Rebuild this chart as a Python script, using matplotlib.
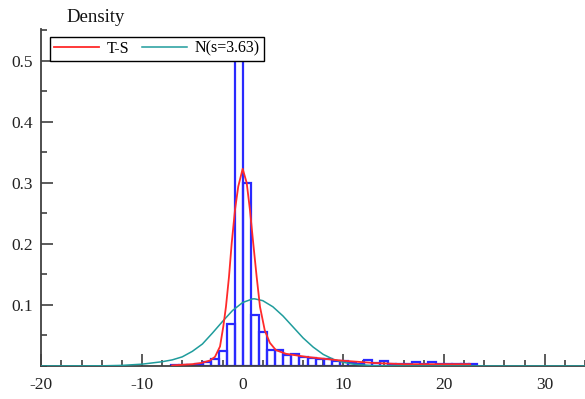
import numpy as np
import matplotlib
matplotlib.use('Agg')
import matplotlib.pyplot as plt
from matplotlib.ticker import MultipleLocator


# histogram (density), regular bins
BIN_START = -7.16
BIN_WIDTH = 0.8
HIST = [0.001, 0.002, 0.002, 0.003, 0.007, 0.011, 0.024, 0.069,
        0.504, 0.299, 0.084, 0.056, 0.026, 0.026, 0.018, 0.019,
        0.015, 0.013, 0.012, 0.011, 0.009, 0.008, 0.005, 0.004,
        0.010, 0.005, 0.008, 0.004, 0.003, 0.003, 0.006, 0.003,
        0.006, 0.003, 0.003, 0.003, 0.003, 0.003]

# fitted T-S density
TS_X = [-7.0, -5.0, -4.1, -3.25, -2.75, -2.25, -1.93, -1.66, -1.36, -1.09,
        -0.76, -0.44, 0.0, 0.40, 0.72, 1.05, 1.39, 1.72, 2.2, 2.7,
        3.3, 4.3, 6.3, 8.0, 9.7, 13.0, 16.0, 22.6]
TS_Y = [0.001, 0.003, 0.005, 0.009, 0.015, 0.032, 0.064, 0.097, 0.146, 0.201,
        0.256, 0.294, 0.323, 0.300, 0.256, 0.201, 0.146, 0.097, 0.058, 0.038,
        0.026, 0.020, 0.015, 0.012, 0.009, 0.005, 0.003, 0.003]

# normal density N(s=3.63)
N_X = [-20, -14, -12, -10, -9, -8, -7, -6, -5, -4, -3, -2, -1, 0, 1, 1.2,
       2, 3, 4, 5, 6, 7, 8, 9, 10, 11, 13, 15, 17, 34]
N_Y = [0.0, 0.0003, 0.001, 0.003, 0.005, 0.007, 0.010, 0.015, 0.024, 0.036,
       0.054, 0.073, 0.091, 0.104, 0.110, 0.110, 0.107, 0.097, 0.082, 0.064,
       0.046, 0.031, 0.019, 0.011, 0.006, 0.003, 0.0005, 0.0001, 0.0, 0.0]

AXIS_COLOR = '#404040'

plt.rcParams['font.family'] = ['Liberation Serif', 'DejaVu Serif']

fig = plt.figure(figsize=(5.85, 3.99), dpi=100)
ax = fig.add_axes([0.0706, 0.0827, 0.9294, 0.8446])

edges = BIN_START + BIN_WIDTH * np.arange(len(HIST))
ax.bar(edges, HIST, width=BIN_WIDTH, align='edge', fill=False,
       edgecolor='#2a2aff', linewidth=1.6, zorder=2)
ax.plot(N_X, N_Y, color='#1f9c9c', linewidth=1.1, label='N(s=3.63)', zorder=3)
ax.plot(TS_X, TS_Y, color='#ff2a2a', linewidth=1.3, label='T-S', zorder=4)

ax.set_xlim(-20, 34)
ax.set_ylim(0, 0.552)

for s in ('top', 'right'):
    ax.spines[s].set_visible(False)
for s in ('left', 'bottom'):
    ax.spines[s].set_color(AXIS_COLOR)
    ax.spines[s].set_linewidth(1.3)

ax.xaxis.set_major_locator(MultipleLocator(10))
ax.xaxis.set_minor_locator(MultipleLocator(2))
ax.yaxis.set_major_locator(MultipleLocator(0.1))
ax.yaxis.set_minor_locator(MultipleLocator(0.05))
ax.tick_params(which='both', direction='in', color=AXIS_COLOR, width=1.2,
               labelsize=12.5, labelcolor='#222222')
ax.tick_params(which='major', length=8.5)
ax.tick_params(which='minor', length=4.2)
ax.tick_params(axis='x', pad=8)
ax.tick_params(axis='y', pad=6)

ax.set_xticks([-20, -10, 0, 10, 20, 30])
ax.set_xticklabels(['-20', '-10', '0', '10', '20', '30'])
ax.set_yticks([0.1, 0.2, 0.3, 0.4, 0.5])
ax.set_yticklabels(['0.1', '0.2', '0.3', '0.4', '0.5'])

handles, labels = ax.get_legend_handles_labels()
leg = ax.legend(handles[::-1], labels[::-1], loc='lower left',
                bbox_to_anchor=(0.016, 0.906), borderaxespad=0, ncol=2,
                fontsize=11.5, frameon=True, fancybox=False,
                handlelength=2.8, handletextpad=0.5, columnspacing=0.8,
                borderpad=0.25)
leg.get_frame().set_edgecolor('black')
leg.get_frame().set_linewidth(1.0)
leg.get_frame().set_alpha(1)

fig.text(66 / 585, 1 - 18 / 399, 'Density', fontsize=13.5, ha='left',
         va='center', color='#111111')

fig.savefig('out.png', dpi=100)
